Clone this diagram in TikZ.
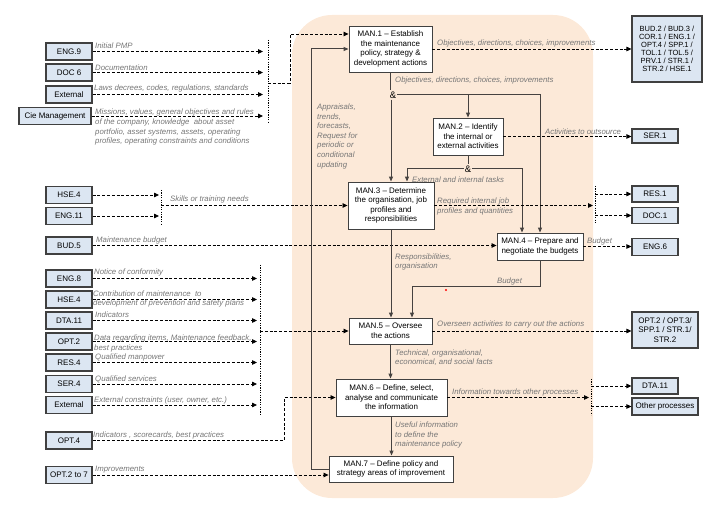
\documentclass[tikz,border=0pt]{standalone}
\usepackage{fontspec}
\setmainfont{Liberation Sans}
\usetikzlibrary{arrows.meta}

\definecolor{peach}{RGB}{252,233,216}
\definecolor{extblue}{RGB}{220,230,242}
\definecolor{boxline}{RGB}{64,64,64}
\definecolor{flowline}{RGB}{70,66,64}
\definecolor{lblgray}{RGB}{118,118,118}
\newcommand{\mansize}{\fontsize{8}{9.6}\selectfont}
\newcommand{\lblsize}{\fontsize{7.8}{9.6}\selectfont\itshape}

\begin{document}
\begin{tikzpicture}[x=1pt,y=-1pt,
  ext/.style={draw=boxline, fill=extblue, line width=1.1pt, font=\mansize, minimum width=46pt, minimum height=17pt, inner sep=1pt, align=center},
  proc/.style={draw=boxline, fill=white, line width=0.9pt, font=\mansize, inner sep=1pt, align=center},
  lbl/.style={font=\lblsize, text=lblgray, inner sep=0pt, anchor=west, align=left},
  andnode/.style={font=\fontsize{9.5}{10}\selectfont, inner sep=1pt},
  dflow/.style={draw=black, line width=0.8pt, dash pattern=on 3pt off 1.8pt, -{Triangle[length=5pt,width=4.5pt]}},
  sflow/.style={draw=flowline, line width=1pt, -{Triangle[length=5pt,width=4pt]}},
  sline/.style={draw=flowline, line width=1pt},
  bar/.style={draw=black, line width=0.7pt, dash pattern=on 1.2pt off 1.2pt}]

\useasboundingbox (0,0) rectangle (720,518);
\fill[peach, rounded corners=40pt] (292,15) rectangle (593,498);

% sources
\node[ext] (eng9) at (69,51.5) {ENG.9};
\node[ext] (doc6) at (69,72.5) {DOC 6};
\node[ext] (extA) at (69,94.5) {External};
\node[ext, minimum width=72pt] (cie) at (55,116) {Cie Management};
\node[ext] (hseA) at (69,195) {HSE.4};
\node[ext] (eng11) at (69,216) {ENG.11};
\node[ext] (bud5) at (69,245.5) {BUD.5};
\node[ext] (eng8) at (69,278.5) {ENG.8};
\node[ext] (hseB) at (69,299.5) {HSE.4};
\node[ext] (dtaA) at (69,320.5) {DTA.11};
\node[ext] (optA) at (69,341.5) {OPT.2};
\node[ext] (res4) at (69,362.5) {RES.4};
\node[ext] (ser4) at (69,384) {SER.4};
\node[ext] (extB) at (69,405) {External};
\node[ext] (opt4) at (69,440.5) {OPT.4};
\node[ext] (opt27) at (69,475) {OPT.2 to 7};

% processes
\node[proc, minimum width=83pt, minimum height=46pt] (man1) at (390.5,49) {MAN.1 – Establish\\the maintenance\\policy, strategy \&\\development actions};
\node[proc, minimum width=70pt, minimum height=37pt] (man2) at (468,136.5) {MAN.2 – Identify\\the internal or\\external activities};
\node[proc, minimum width=86pt, minimum height=47pt] (man3) at (391,205.5) {MAN.3 – Determine\\the organisation, job\\profiles and\\responsibilities};
\node[proc, minimum width=86pt, minimum height=27pt] (man4) at (540,246.5) {MAN.4 – Prepare and\\negotiate the budgets};
\node[proc, minimum width=83pt, minimum height=26pt] (man5) at (390.5,331) {MAN.5 – Oversee\\the actions};
\node[proc, minimum width=111pt, minimum height=37pt] (man6) at (391.5,397.5) {MAN.6 – Define, select,\\analyse and communicate\\the information};
\node[proc, minimum width=124pt, minimum height=26pt] (man7) at (391,469) {MAN.7 – Define policy and\\strategy areas of improvement};
\node[andnode] (and1) at (393,95) {\&};
\node[andnode] (and2) at (468,169) {\&};

% receivers
\node[ext, minimum width=70pt, minimum height=66pt, font=\fontsize{7.5}{8.1}\selectfont] (bud2) at (667,49) {BUD.2 / BUD.3 /\\COR.1 / ENG.1 /\\OPT.4 / SPP.1 /\\TOL.1 / TOL.5 /\\PRV.1 / STR.1 /\\STR.2 / HSE.1};
\node[ext, minimum height=14pt] (ser1) at (655,136) {SER.1};
\node[ext, minimum height=16pt] (res1) at (655,194) {RES.1};
\node[ext, minimum height=16pt] (doc1) at (655,215.5) {DOC.1};
\node[ext] (eng6) at (655,247) {ENG.6};
\node[ext, minimum width=66pt, minimum height=36pt] (optB) at (665,330) {OPT.2 / OPT.3/\\SPP.1 / STR.1/\\STR.2};
\node[ext, minimum height=16pt] (dtaB) at (655,386) {DTA.11};
\node[ext, minimum width=66pt] (other) at (665,406.5) {Other processes};

% inputs of MAN.1
\coordinate (inA) at (263,83);
\coordinate (mA) at (268,83);
\draw[dflow] (eng9.east) -- (eng9.east -| inA);
\draw[dflow] (doc6.east) -- (doc6.east -| inA);
\draw[dflow] (extA.east) -- (extA.east -| inA);
\draw[dflow] (cie.east) -- (cie.east -| inA);
\draw[bar] (268,40) -- (268,122);
\draw[dflow] (mA) -- (290,83) |- ([yshift=15pt]man1.west);

% inputs of MAN.3, MAN.4
\coordinate (inB) at (159,205);
\coordinate (mB) at (161,205);
\draw[dflow] (hseA.east) -- (hseA.east -| inB);
\draw[dflow] (eng11.east) -- (eng11.east -| inB);
\draw[bar] (161,190) -- (161,225);
\draw[dflow] (mB |- man3.west) -- (man3.west);
\draw[dflow] (bud5.east) -- (bud5.east -| man4.west);

% inputs of MAN.5
\coordinate (inC) at (257,331);
\coordinate (mC) at (260,331);
\draw[dflow] (eng8.east) -- (eng8.east -| inC);
\draw[dflow] (hseB.east) -- (hseB.east -| inC);
\draw[dflow] (dtaA.east) -- (dtaA.east -| inC);
\draw[dflow] (optA.east) -- (optA.east -| inC);
\draw[dflow] (res4.east) -- (res4.east -| inC);
\draw[dflow] (ser4.east) -- (ser4.east -| inC);
\draw[dflow] (extB.east) -- (extB.east -| inC);
\draw[bar] (260,265) -- (260,415);
\draw[dflow] (mC |- man5.west) -- (man5.west);

% inputs of MAN.6, MAN.7
\coordinate (mD) at (284,397);
\draw[dflow] (opt4.east) -| (man6.west -| mD) -- (man6.west);
\draw[dflow] (opt27.east) -- (opt27.east -| man7.west);

% main flow
\coordinate (fb) at (311,49);
\coordinate (bt) at (412,287);
\draw[sflow] (man7.west) -| (fb) -- (man1.west);
\draw[sline] (man1.south) -- (man1.south |- and1.north);
\draw[sflow] (man3.north |- and1.south) -- (man3.north);
\draw[sflow] (and1.east) -| (man4.north);
\draw[sflow] (and1.east -| man2.north) -- (man2.north);
\draw[sline] (man2.south) -- (and2.north);
\draw[sflow] (and2.west) -| ([xshift=16pt]man3.north);
\draw[sflow] (and2.east) -| ([xshift=-18pt]man4.north);
\draw[sflow] (man3.south) -- (man3.south |- man5.north);
\draw[sflow] (man4.south) |- (bt) -- (bt |- man5.north);
\draw[sflow] (man5.south) -- (man5.south |- man6.north);
\draw[sflow] (man6.south) -- (man6.south |- man7.north);
\fill[red] (446,290) circle (1.1pt);

% outputs
\coordinate (outA) at (593,205);
\coordinate (mE) at (595,194);
\coordinate (outB) at (589,397);
\coordinate (mF) at (591,386);
\draw[dflow] (man1.east) -- (bud2.west);
\draw[dflow] (man2.east) -- (man2.east -| ser1.west);
\draw[dflow] (man3.east) -- (man3.east -| outA);
\draw[bar] (595,186) -- (595,223);
\draw[dflow] (res1.west -| mE) -- (res1.west);
\draw[dflow] (doc1.west -| mE) -- (doc1.west);
\draw[dflow] (man4.east) -- (man4.east -| eng6.west);
\draw[dflow] (man5.east) -- (man5.east -| optB.west);
\draw[dflow] (man6.east) -- (man6.east -| outB);
\draw[bar] (591,379) -- (591,415);
\draw[dflow] (dtaB.west -| mF) -- (dtaB.west);
\draw[dflow] (other.west -| mF) -- (other.west);

% labels
\node[lbl] (lpmp) at (95,45.5) {Initial PMP};
\node[lbl] (ldoc) at (95,67.5) {Documentation};
\node[lbl] (llaw) at (94,88.5) {Laws decrees, codes, regulations, standards};
\node[lbl] (lmis) at (95,127.3) {Missions, values, general objectives and rules\\of the company, knowledge\ \ about asset\\portfolio, asset systems, assets, operating\\profiles, operating constraints and conditions};
\node[lbl] (lskl) at (170,199) {Skills or training needs};
\node[lbl] (lmbu) at (96,240) {Maintenance budget};
\node[lbl] (lnot) at (94,272.7) {Notice of conformity};
\node[lbl] (lcon) at (93,299) {Contribution of maintenance\ \ to\\development of prevention and safety plans};
\node[lbl] (lind) at (95,315) {Indicators};
\node[lbl] (ldat) at (94,343.4) {Data regarding items, Maintenance feedback,\\best practices};
\node[lbl] (lman) at (95,357.7) {Qualified manpower};
\node[lbl] (lser) at (95,379) {Qualified services};
\node[lbl] (lecs) at (94,400) {External constraints (user, owner, etc.)};
\node[lbl] (lsco) at (93,435) {Indicators , scorecards, best practices};
\node[lbl] (limp) at (95,470) {Improvements};
\node[lbl] (lapp) at (317,136.2) {Appraisals,\\trends,\\forecasts,\\Request for\\periodic or\\conditional\\updating};
\node[lbl] (lobjA) at (437,43.3) {Objectives, directions, choices, improvements};
\node[lbl] (lobjB) at (395,80) {Objectives, directions, choices, improvements};
\node[lbl] (lout) at (545,131.7) {Activities to outsource};
\node[lbl] (ltsk) at (412,179.3) {External and internal tasks};
\node[lbl] (ljob) at (437,206.4) {Required internal job\\profiles and quantities};
\node[lbl] (lbuA) at (587,241.7) {Budget};
\node[lbl] (lbuB) at (497,281.7) {Budget};
\node[lbl] (lres) at (395,262) {Responsibilities,\\organisation};
\node[lbl] (lovr) at (437,324.3) {Overseen activities to carry out the actions};
\node[lbl] (ltec) at (395,357.7) {Technical, organisational,\\economical, and social facts};
\node[lbl] (linf) at (452,392.7) {Information towards other processes};
\node[lbl] (luse) at (395,435) {Useful information\\to define the\\maintenance policy};
\end{tikzpicture}
\end{document}
